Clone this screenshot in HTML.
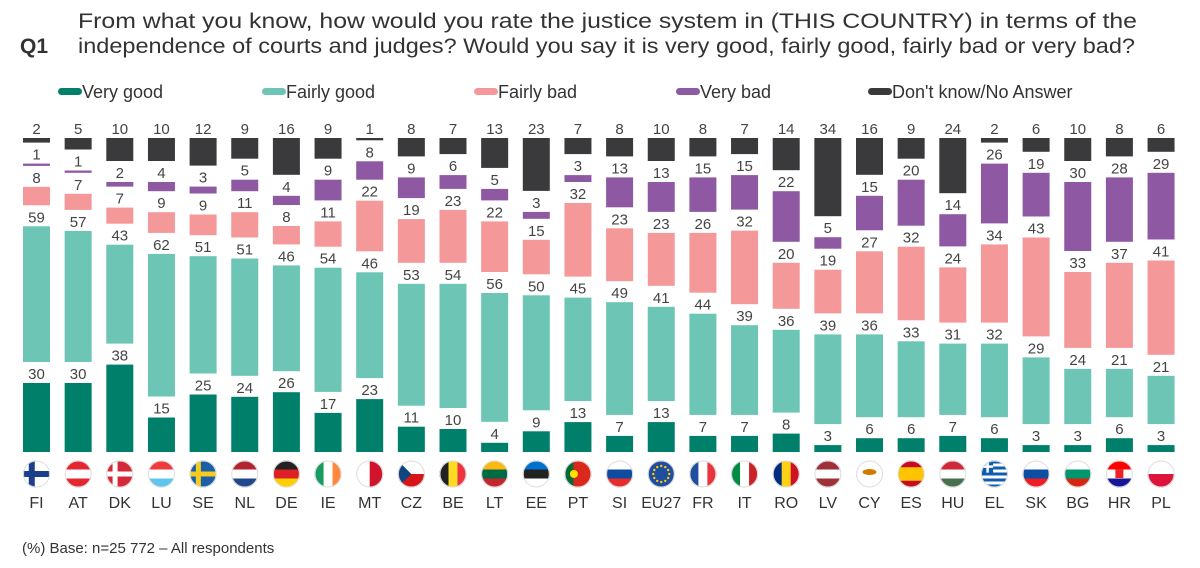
<!DOCTYPE html>
<html><head><meta charset="utf-8"><style>
body{margin:0;background:#fff;}
svg{display:block;font-family:"Liberation Sans",sans-serif;}
</style></head><body>
<svg id="chart" width="1200" height="568" viewBox="0 0 1200 568">
<text x="20" y="53" font-size="21" font-weight="bold" fill="#333">Q1</text>
<text x="78" y="28" font-size="21" fill="#333" textLength="1059" lengthAdjust="spacingAndGlyphs">From what you know, how would you rate the justice system in (THIS COUNTRY) in terms of the</text>
<text x="78" y="53" font-size="21" fill="#333" textLength="1057" lengthAdjust="spacingAndGlyphs">independence of courts and judges? Would you say it is very good, fairly good, fairly bad or very bad?</text>
<g id="legend"></g>
<g id="bars"></g>
<text x="22" y="553" font-size="15" fill="#333">(%) Base: n=25 772 – All respondents</text>
</svg>
<script>
const countries=["FI","AT","DK","LU","SE","NL","DE","IE","MT","CZ","BE","LT","EE","PT","SI","EU27","FR","IT","RO","LV","CY","ES","HU","EL","SK","BG","HR","PL"];
const veryGood=[30,30,38,15,25,24,26,17,23,11,10,4,9,13,7,13,7,7,8,3,6,6,7,6,3,3,6,3];
const fairlyGood=[59,57,43,62,51,51,46,54,46,53,54,56,50,45,49,41,44,39,36,39,36,33,31,32,29,24,21,21];
const fairlyBad=[8,7,7,9,9,11,8,11,22,19,23,22,15,32,23,23,26,32,20,19,27,32,24,34,43,33,37,41];
const veryBad=[1,1,2,4,3,5,4,9,8,9,6,5,3,3,13,13,15,15,22,5,15,20,14,26,19,30,28,29];
const dontKnow=[2,5,10,10,12,9,16,9,1,8,7,13,23,7,8,10,8,7,14,34,16,9,24,2,6,10,8,6];
const seriesNames=["Very good","Fairly good","Fairly bad","Very bad","Don't know/No Answer"];
const NS="http://www.w3.org/2000/svg";
const colors=["#00806a","#6cc5b5","#f4989a","#8f58a3","#3a3a3c"];
const series=[veryGood,fairlyGood,fairlyBad,veryBad,dontKnow];
const svg=document.getElementById('chart');
function mk(t,a,p){const e=document.createElementNS(NS,t);for(const k in a)e.setAttribute(k,a[k]);p.appendChild(e);return e;}
// legend
const leg=document.getElementById('legend');
const legX=[58,262,474,676,868];
seriesNames.forEach((n,i)=>{
  const g=mk('g',{},leg);
  
  
  mk('rect',{x:legX[i],y:88,width:24,height:7,rx:3.5,fill:colors[i]},g);
  const t=mk('text',{x:legX[i]+24,y:98,'font-size':18,fill:'#333'},g);t.textContent=n;
});
// scales
const x0=36.5, step=41.65, bw=27, base=452, k=2.3, gap=21;
const xs=i=>x0+i*step;
const hs=v=>v*k;
const bars=document.getElementById('bars');
// flags
function flag(code,g,cx,cy,r){
  const id='c'+code;
  const cp=mk('clipPath',{id:id},g);mk('circle',{cx:cx,cy:cy,r:r},cp);
  const f=mk('g',{'clip-path':'url(#'+id+')'},g);
  const L=cx-r,T=cy-r,W=2*r;
  const H=(cols)=>cols.forEach((c,j)=>mk('rect',{x:L,y:T+j*W/cols.length,width:W,height:W/cols.length+0.5,fill:c},f));
  const V=(cols)=>cols.forEach((c,j)=>mk('rect',{x:L+j*W/cols.length,y:T,width:W/cols.length+0.5,height:W,fill:c},f));
  const cross=(bg,c,w)=>{mk('rect',{x:L,y:T,width:W,height:W,fill:bg},f);mk('rect',{x:L,y:cy-w/2,width:W,height:w,fill:c},f);mk('rect',{x:cx-r*0.35-w/2,y:T,width:w,height:W,fill:c},f);};
  switch(code){
    case 'FI':cross('#fff','#1b3f8b',6);break;
    case 'AT':H(['#e3262f','#fff','#e3262f']);break;
    case 'DK':cross('#d5283a','#fff',5);break;
    case 'LU':H(['#ee3b3b','#fff','#5fc4ee']);break;
    case 'SE':cross('#1a5fa8','#f6cd1e',5);break;
    case 'NL':H(['#b0252f','#fff','#21468b']);break;
    case 'DE':H(['#222','#dd1f26','#ffce00']);break;
    case 'IE':V(['#169b62','#fff','#ff883e']);break;
    case 'MT':V(['#fff','#cf142b']);break;
    case 'CZ':H(['#fff','#d7141a']);mk('polygon',{points:`${L},${T} ${cx},${cy} ${L},${T+W}`,fill:'#11457e'},f);break;
    case 'BE':V(['#222','#fdda24','#ef3340']);break;
    case 'LT':H(['#fdb913','#006a44','#c1272d']);break;
    case 'EE':H(['#0072ce','#222','#fff']);break;
    case 'PT':V(['#046a38','#da291c','#da291c']);mk('circle',{cx:cx-r*0.3,cy:cy,r:4,fill:'#ffe000'},f);break;
    case 'SI':H(['#fff','#0c4da2','#e52d2d']);break;
    case 'EU27':mk('rect',{x:L,y:T,width:W,height:W,fill:'#1f4ea1'},f);for(let j=0;j<12;j++){const a=j*Math.PI/6;mk('circle',{cx:cx+8*Math.cos(a),cy:cy+8*Math.sin(a),r:1.2,fill:'#fc0'},f);}break;
    case 'FR':V(['#1f4ea1','#fff','#e9343d']);break;
    case 'IT':V(['#008c45','#fff','#cd212a']);break;
    case 'RO':V(['#002b7f','#fcd116','#ce1126']);break;
    case 'LV':H(['#9e3039','#fff','#9e3039']);break;
    case 'CY':mk('rect',{x:L,y:T,width:W,height:W,fill:'#fff'},f);mk('ellipse',{cx:cx,cy:cy-2,rx:7,ry:3,fill:'#d57800'},f);break;
    case 'ES':H(['#c60b1e','#ffc400','#ffc400','#c60b1e']);break;
    case 'HU':H(['#ce2939','#fff','#477050']);break;
    case 'EL':H(['#0d5eaf','#fff','#0d5eaf','#fff','#0d5eaf','#fff','#0d5eaf','#fff','#0d5eaf']);mk('rect',{x:L,y:T,width:W*0.45,height:W*0.45,fill:'#0d5eaf'},f);mk('rect',{x:L,y:T+W*0.18,width:W*0.45,height:2.5,fill:'#fff'},f);mk('rect',{x:L+W*0.2,y:T,width:2.5,height:W*0.45,fill:'#fff'},f);break;
    case 'SK':H(['#fff','#0b4ea2','#ee1c25']);break;
    case 'BG':H(['#fff','#00966e','#d62612']);break;
    case 'HR':H(['#ff0000','#fff','#171796']);mk('rect',{x:cx-4,y:cy-5,width:8,height:9,fill:'#e22'},f);break;
    case 'PL':H(['#fff','#dc143c']);break;
  }
  mk('circle',{cx:cx,cy:cy,r:r-0.5,fill:'none',stroke:'#ddd','stroke-width':1},g);
}
const segNames=['very-good','fairly-good','fairly-bad','very-bad','dont-know'];
countries.forEach((c,i)=>{
  const g=mk('g',{},bars);
  
  
  const cx=xs(i);
  let y=base;
  series.forEach((s,j)=>{
    const h=Math.max(hs(s[i]),1.5);
    const top=y-h;
    const r=mk('rect',{x:cx-bw/2,y:top,width:bw,height:h,fill:colors[j]},g);
    
    
    const t=mk('text',{x:cx,y:top-4,'text-anchor':'middle','font-size':15,fill:'#444'},g);
    
    
    t.textContent=s[i];
    y=top-gap;
  });
  const fg=mk('g',{},g);
  
  
  flag(c,fg,cx,474,13.5);
  const lt=mk('text',{x:cx,y:508,'text-anchor':'middle','font-size':16,fill:'#333'},g);
  
  
  lt.textContent=c;
});
</script>
</body></html>
